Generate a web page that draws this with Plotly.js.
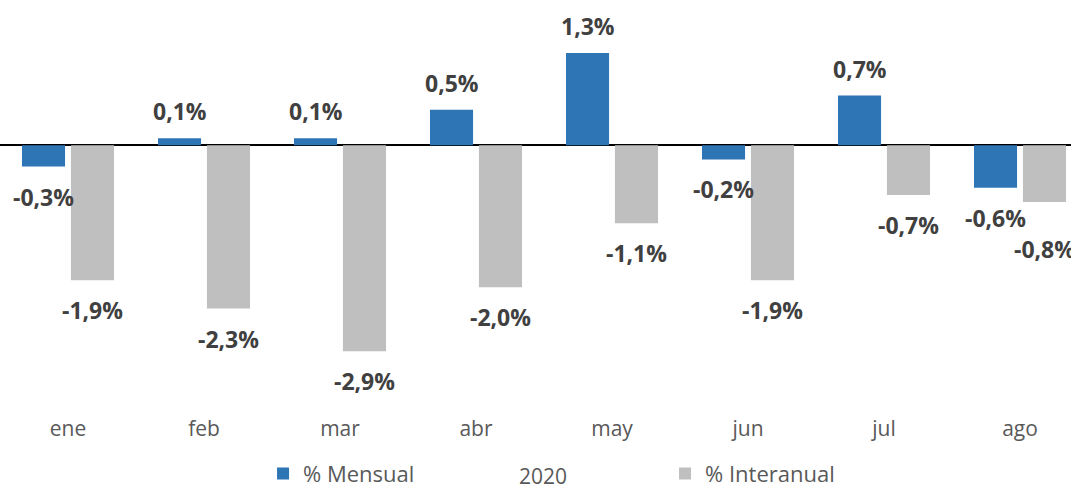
<!DOCTYPE html>
<html>
<head>
<meta charset="utf-8">
<script src="https://cdn.plot.ly/plotly-3.0.1.min.js"></script>
<style>html,body{margin:0;padding:0;background:#fff;}#chart{width:1071px;height:487px;}</style>
</head>
<body>
<div id="chart"></div>
<script>
const categories = ['ene', 'feb', 'mar', 'abr', 'may', 'jun', 'jul', 'ago'];
const mensual = [-0.3, 0.1, 0.1, 0.5, 1.3, -0.2, 0.7, -0.6];
const interanual = [-1.9, -2.3, -2.9, -2.0, -1.1, -1.9, -0.7, -0.8];
const seriesNames = ['% Mensual', '% Interanual'];
const axisTitle = '2020';

const fmt = v => v.toFixed(1).replace('.', ',') + '%';

const traces = [
  {type: 'bar', name: seriesNames[0], x: categories, y: mensual, marker: {color: '#2E75B6'}, hoverinfo: 'none'},
  {type: 'bar', name: seriesNames[1], x: categories, y: interanual, marker: {color: '#BFBFBF'}, hoverinfo: 'none'}
];

const labelFont = {family: 'Open Sans, sans-serif', size: 23, color: '#404040', weight: 'bold'};
const annotations = [];
const off = 0.18;
mensual.forEach((v, i) => {
  annotations.push({x: i - off, y: v, xref: 'x', yref: 'y', text: '<b>' + fmt(v) + '</b>', showarrow: false,
    font: labelFont, yanchor: 'middle', yshift: v >= 0 ? 27 : -30});
});
interanual.forEach((v, i) => {
  annotations.push({x: i + off, y: v, xref: 'x', yref: 'y', text: '<b>' + fmt(v) + '</b>', showarrow: false,
    font: labelFont, yanchor: 'middle', yshift: i === categories.length - 1 ? -47 : -30});
});
// x-axis title "2020"
annotations.push({x: 0.507, y: -0.150, xref: 'paper', yref: 'paper', text: axisTitle, showarrow: false,
  xanchor: 'center', yanchor: 'middle', font: {family: 'Open Sans, sans-serif', size: 21, color: '#595959'}});

const layout = {
  width: 1071, height: 487,
  margin: {l: 0, r: 0, t: 0, b: 73, autoexpand: false},
  paper_bgcolor: '#ffffff', plot_bgcolor: '#ffffff',
  barmode: 'group', bargap: 0.28, bargroupgap: 0.12,
  font: {family: 'Open Sans, sans-serif', color: '#595959'},
  xaxis: {
    type: 'category', range: [-0.5, 7.375], showgrid: false, showline: false, ticks: '',
    tickfont: {size: 21, color: '#595959'}, fixedrange: true, automargin: false
  },
  yaxis: {
    range: [-3.785, 2.046], showgrid: false, showticklabels: false, ticks: '',
    zeroline: true, zerolinecolor: '#000000', zerolinewidth: 2, fixedrange: true, automargin: false
  },
  showlegend: true,
  legend: {
    orientation: 'h', x: 0.2456, xanchor: 'left', y: -0.144, yanchor: 'middle',
    entrywidth: 357, entrywidthmode: 'pixels',
    font: {size: 22, color: '#595959'}, bgcolor: 'rgba(0,0,0,0)'
  },
  annotations: annotations
};

Plotly.newPlot('chart', traces, layout, {staticPlot: true, displayModeBar: false});
</script>
</body>
</html>
